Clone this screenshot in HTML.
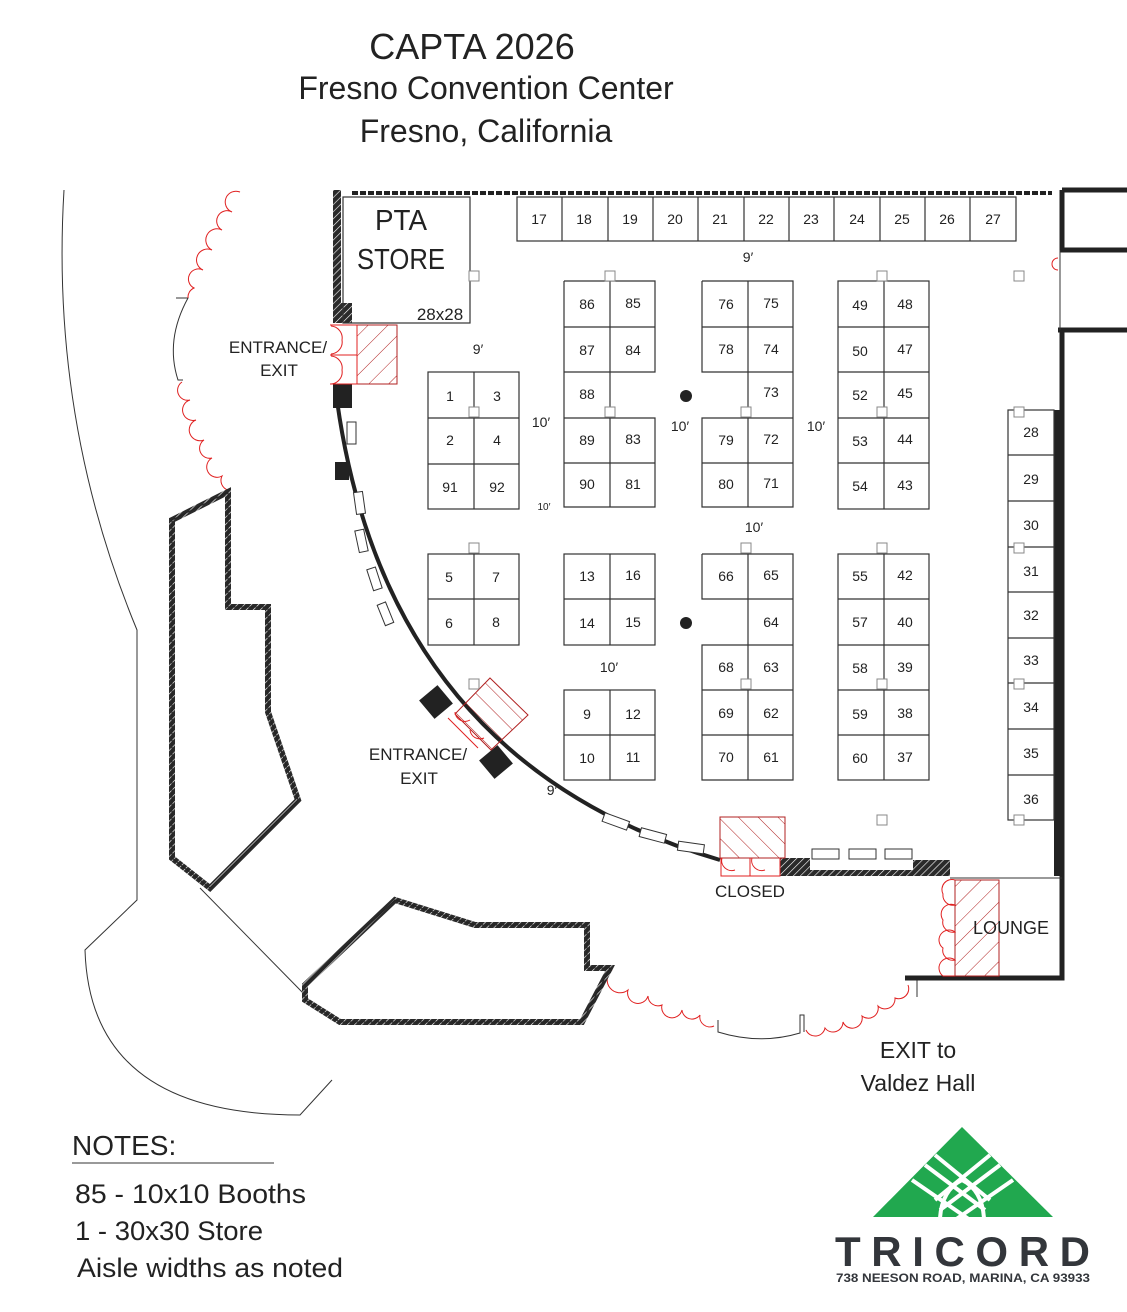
<!DOCTYPE html>
<html><head><meta charset="utf-8"><style>
html,body{margin:0;padding:0;background:#fff}
svg{display:block}
text{font-family:"Liberation Sans",sans-serif;fill:#222}
.b{fill:none;stroke:#333;stroke-width:1.2}
.n{font-size:14px;text-anchor:middle}
.p{fill:#fff;stroke:#888;stroke-width:1}
.r{fill:none;stroke:#e02020;stroke-width:1}
</style></head><body>
<svg width="1127" height="1312" viewBox="0 0 1127 1312" xmlns="http://www.w3.org/2000/svg">
<defs>
<pattern id="h" width="5" height="5" patternUnits="userSpaceOnUse" patternTransform="rotate(45)"><rect width="5" height="5" fill="#2a2a2a"/><line x1="0" y1="0" x2="0" y2="5" stroke="#fff" stroke-width="1.2"/></pattern>
<pattern id="rh" width="14" height="14" patternUnits="userSpaceOnUse" patternTransform="rotate(-45)"><line x1="0" y1="0" x2="0" y2="14" stroke="#b02020" stroke-width="1"/></pattern>
<pattern id="rh2" width="14" height="14" patternUnits="userSpaceOnUse" patternTransform="rotate(45)"><line x1="0" y1="0" x2="0" y2="14" stroke="#b02020" stroke-width="1"/></pattern>
</defs>

<text x="472" y="59" font-size="36" text-anchor="middle">CAPTA 2026</text>
<text x="486" y="99" font-size="32" text-anchor="middle">Fresno Convention Center</text>
<text x="486" y="142" font-size="32" text-anchor="middle">Fresno, California</text>

<path d="M64 190 Q50 420 137 630 L137 900 L85 950 Q90 1115 300 1115 L332 1080" fill="none" stroke="#333" stroke-width="1"/>
<line x1="200" y1="888" x2="305" y2="995" stroke="#333" stroke-width="1"/>
<path d="M176 298 L188 298 Q165 340 178 380 L183 380" fill="none" stroke="#333" stroke-width="1"/>
<path d="M718 1020 L718 1032 Q760 1045 800 1033 L800 1015 L804 1015 L804 1032" fill="none" stroke="#333" stroke-width="1"/>
<line x1="917" y1="978" x2="917" y2="997" stroke="#333"/>

<path class="r" d="M240 192 A10 10 0 0 0 232 212 A10 10 0 0 0 222 230 A10 10 0 0 0 212 250 A10 10 0 0 0 203 270 A10 10 0 0 0 194 288 A10 10 0 0 0 188 298"/>
<path class="r" d="M182 382 A10 10 0 0 0 190 400 A10 10 0 0 0 196 420 A10 10 0 0 0 204 440 A10 10 0 0 0 212 458 A10 10 0 0 0 222 476 A10 10 0 0 0 228 490"/>
<path class="r" d="M612 970 A10 10 0 0 0 628 990 A10 10 0 0 0 648 996 A10 10 0 0 0 662 1005 A10 10 0 0 0 682 1010 A10 10 0 0 0 700 1015 A10 10 0 0 0 714 1026"/>
<path class="r" d="M806 1030 A10 10 0 0 0 825 1028 A10 10 0 0 0 843 1022 A10 10 0 0 0 862 1016 A10 10 0 0 0 878 1006 A10 10 0 0 0 895 998 A10 10 0 0 0 908 985"/>

<path d="M172 520 L228 492 L228 607 L268 607 L268 712 L298 800 L210 888 L172 858 Z" fill="none" stroke="url(#h)" stroke-width="6"/>
<path d="M172 520 L228 492 L228 607 L268 607 L268 712 L298 800 L210 888 L172 858 Z" fill="none" stroke="#222" stroke-width="1"/>
<path d="M305 985 L395 900 L475 925 L587 925 L587 968 L610 968 L582 1022 L340 1022 L305 1000 Z" fill="none" stroke="url(#h)" stroke-width="6"/>
<path d="M305 985 L395 900 L475 925 L587 925 L587 968 L610 968 L582 1022 L340 1022 L305 1000 Z" fill="none" stroke="#222" stroke-width="1"/>

<rect x="333" y="190" width="8" height="133" fill="url(#h)"/>
<rect x="333" y="303" width="19" height="20" fill="url(#h)"/>
<line x1="352" y1="193" x2="1052" y2="193" stroke="#222" stroke-width="4" stroke-dasharray="6,2"/>
<path d="M1062 190 L1127 190 M1062 190 L1062 250 L1127 250 M1058 330 L1127 330 M1062 330 L1062 978 L905 978" fill="none" stroke="#222" stroke-width="5"/>
<line x1="1058" y1="410" x2="1058" y2="876" stroke="#222" stroke-width="8"/>
<line x1="1060" y1="330" x2="1060" y2="250" stroke="#333" stroke-width="1"/>
<path class="r" d="M1058 258 A6 6 0 0 0 1058 270"/>
<path d="M335 385 Q380 760 720 860" fill="none" stroke="#222" stroke-width="4"/>
<rect x="333" y="384" width="19" height="24" fill="#222"/>
<rect x="335" y="462" width="14" height="18" fill="#222"/>
<rect x="424" y="690" width="24" height="24" fill="#222" transform="rotate(-40 436 702)"/>
<rect x="484" y="750" width="24" height="24" fill="#222" transform="rotate(-40 496 762)"/>
<g fill="#fff" stroke="#333" stroke-width="1">
<rect x="347" y="422" width="9" height="22"/>
<rect x="355" y="492" width="9" height="22" transform="rotate(-8 359 503)"/>
<rect x="357" y="530" width="9" height="22" transform="rotate(-12 361 541)"/>
<rect x="370" y="568" width="9" height="22" transform="rotate(-18 374 579)"/>
<rect x="381" y="603" width="9" height="22" transform="rotate(-22 385 614)"/>
<rect x="603" y="817" width="26" height="9" transform="rotate(20 616 821)"/>
<rect x="640" y="831" width="26" height="9" transform="rotate(15 653 835)"/>
<rect x="678" y="843" width="26" height="9" transform="rotate(8 691 847)"/>
<rect x="812" y="849" width="27" height="10"/>
<rect x="849" y="849" width="27" height="10"/>
<rect x="885" y="849" width="27" height="10"/>
</g>
<path d="M780 858 L810 858 L810 870 L913 870 L913 860 L950 860 L950 876 L780 876 Z" fill="url(#h)"/>
<line x1="950" y1="878" x2="1062" y2="878" stroke="#333"/>

<rect x="357" y="325" width="40" height="59" fill="url(#rh2)" stroke="#b02020"/>
<path class="r" d="M330 325 L357 325 L357 384 L330 384 M330 355 L357 355"/>
<path class="r" d="M331 326 A12 12 0 0 1 342 340 A12 12 0 0 1 331 354 M331 356 A12 12 0 0 1 342 370 A12 12 0 0 1 331 384"/>
<text x="278" y="353" font-size="17" text-anchor="middle">ENTRANCE/</text>
<text x="279" y="376" font-size="17" text-anchor="middle">EXIT</text>

<polygon points="490,678 528,715 491,750 455,714" fill="url(#rh)" stroke="#b02020"/>
<path class="r" d="M448 718 L478 748 M455 712 A10 10 0 0 0 470 720 M470 730 A10 10 0 0 0 484 738"/>
<text x="418" y="760" font-size="17" text-anchor="middle">ENTRANCE/</text>
<text x="419" y="784" font-size="17" text-anchor="middle">EXIT</text>

<rect x="720" y="817" width="65" height="41" fill="url(#rh)" stroke="#b02020"/>
<path class="r" d="M721 858 L721 876 L780 876 L780 858 M750 858 L750 876 M722 858 A10 10 0 0 0 735 870 M752 858 A10 10 0 0 0 765 870"/>
<text x="750" y="897" font-size="17" text-anchor="middle">CLOSED</text>

<rect x="955" y="880" width="44" height="96" fill="url(#rh2)" stroke="#b02020"/>
<path class="r" d="M955 880 A10 10 0 0 0 943 894 A10 10 0 0 0 955 905 A10 10 0 0 0 943 920 A10 10 0 0 0 955 932 A10 10 0 0 0 943 948 A10 10 0 0 0 955 960 A10 10 0 0 0 943 976 L955 976"/>
<text x="1011" y="934" font-size="18" text-anchor="middle">LOUNGE</text>
<text x="918" y="1058" font-size="23" text-anchor="middle">EXIT to</text>
<text x="918" y="1091" font-size="23" text-anchor="middle">Valdez Hall</text>

<rect x="343" y="197" width="127" height="126" class="b"/>
<text x="401" y="230" font-size="29" text-anchor="middle" textLength="52" lengthAdjust="spacingAndGlyphs">PTA</text>
<text x="401" y="269" font-size="29" text-anchor="middle" textLength="88" lengthAdjust="spacingAndGlyphs">STORE</text>
<text x="440" y="320" font-size="17" text-anchor="middle">28x28</text>

<rect x="517" y="197" width="499" height="44" class="b"/>
<path class="b" d="M562 197V241M608 197V241M653 197V241M698 197V241M744 197V241M789 197V241M834 197V241M880 197V241M925 197V241M970 197V241"/>
<g class="n"><text x="539" y="224">17</text><text x="584" y="224">18</text><text x="630" y="224">19</text><text x="675" y="224">20</text><text x="720" y="224">21</text><text x="766" y="224">22</text><text x="811" y="224">23</text><text x="857" y="224">24</text><text x="902" y="224">25</text><text x="947" y="224">26</text><text x="993" y="224">27</text></g>

<rect x="428" y="372" width="91" height="137" class="b"/>
<path class="b" d="M474 372V509M428 418H519M428 464H519"/>
<g class="n"><text x="450" y="401">1</text><text x="497" y="401">3</text><text x="450" y="445">2</text><text x="497" y="445">4</text><text x="450" y="492">91</text><text x="497" y="492">92</text></g>

<path class="b" d="M564 281H655V372H610M564 281V507H655V418H610M610 281V507M564 327H655M564 372H610M564 418H655M564 463H655"/>
<g class="n"><text x="587" y="309">86</text><text x="633" y="308">85</text><text x="587" y="355">87</text><text x="633" y="355">84</text><text x="587" y="399">88</text><text x="587" y="445">89</text><text x="633" y="444">83</text><text x="587" y="489">90</text><text x="633" y="489">81</text></g>

<path class="b" d="M702 281H793V507H702V418H748M702 281V372H748M748 281V507M702 327H793M748 372H793M702 418H793M702 463H793"/>
<g class="n"><text x="726" y="309">76</text><text x="771" y="308">75</text><text x="726" y="354">78</text><text x="771" y="354">74</text><text x="771" y="397">73</text><text x="726" y="445">79</text><text x="771" y="444">72</text><text x="726" y="489">80</text><text x="771" y="488">71</text></g>

<rect x="838" y="281" width="91" height="228" class="b"/>
<path class="b" d="M884 281V509M838 327H929M838 372H929M838 418H929M838 463H929"/>
<g class="n"><text x="860" y="310">49</text><text x="905" y="309">48</text><text x="860" y="356">50</text><text x="905" y="354">47</text><text x="860" y="400">52</text><text x="905" y="398">45</text><text x="860" y="446">53</text><text x="905" y="444">44</text><text x="860" y="491">54</text><text x="905" y="490">43</text></g>

<rect x="428" y="554" width="91" height="91" class="b"/>
<path class="b" d="M474 554V645M428 599H519"/>
<g class="n"><text x="449" y="582">5</text><text x="496" y="582">7</text><text x="449" y="628">6</text><text x="496" y="627">8</text></g>

<rect x="564" y="554" width="91" height="91" class="b"/>
<path class="b" d="M610 554V645M564 599H655"/>
<g class="n"><text x="587" y="581">13</text><text x="633" y="580">16</text><text x="587" y="628">14</text><text x="633" y="627">15</text></g>

<rect x="564" y="690" width="91" height="90" class="b"/>
<path class="b" d="M610 690V780M564 735H655"/>
<g class="n"><text x="587" y="719">9</text><text x="633" y="719">12</text><text x="587" y="763">10</text><text x="633" y="762">11</text></g>

<path class="b" d="M702 554H793V780H702V645H748M702 554V599H748M748 554V780M748 599H793M702 645H793M702 690H793M702 735H793"/>
<g class="n"><text x="726" y="581">66</text><text x="771" y="580">65</text><text x="771" y="627">64</text><text x="726" y="672">68</text><text x="771" y="672">63</text><text x="726" y="718">69</text><text x="771" y="718">62</text><text x="726" y="762">70</text><text x="771" y="762">61</text></g>

<rect x="838" y="554" width="91" height="226" class="b"/>
<path class="b" d="M884 554V780M838 599H929M838 645H929M838 690H929M838 735H929"/>
<g class="n"><text x="860" y="581">55</text><text x="905" y="580">42</text><text x="860" y="627">57</text><text x="905" y="627">40</text><text x="860" y="673">58</text><text x="905" y="672">39</text><text x="860" y="719">59</text><text x="905" y="718">38</text><text x="860" y="763">60</text><text x="905" y="762">37</text></g>

<rect x="1008" y="410" width="46" height="410" class="b"/>
<path class="b" d="M1008 455H1054M1008 501H1054M1008 547H1054M1008 592H1054M1008 638H1054M1008 683H1054M1008 729H1054M1008 775H1054"/>
<g class="n"><text x="1031" y="437">28</text><text x="1031" y="484">29</text><text x="1031" y="530">30</text><text x="1031" y="576">31</text><text x="1031" y="620">32</text><text x="1031" y="665">33</text><text x="1031" y="712">34</text><text x="1031" y="758">35</text><text x="1031" y="804">36</text></g>

<g class="p">
<rect x="469" y="271" width="10" height="10"/><rect x="605" y="271" width="10" height="10"/><rect x="877" y="271" width="10" height="10"/><rect x="1014" y="271" width="10" height="10"/>
<rect x="469" y="407" width="10" height="10"/><rect x="605" y="407" width="10" height="10"/><rect x="741" y="407" width="10" height="10"/><rect x="877" y="407" width="10" height="10"/><rect x="1014" y="407" width="10" height="10"/>
<rect x="469" y="543" width="10" height="10"/><rect x="741" y="543" width="10" height="10"/><rect x="877" y="543" width="10" height="10"/><rect x="1014" y="543" width="10" height="10"/>
<rect x="469" y="679" width="10" height="10"/><rect x="741" y="679" width="10" height="10"/><rect x="877" y="679" width="10" height="10"/><rect x="1014" y="679" width="10" height="10"/>
<rect x="877" y="815" width="10" height="10"/><rect x="1014" y="815" width="10" height="10"/>
</g>
<circle cx="686" cy="396" r="6" fill="#222"/>
<circle cx="686" cy="623" r="6" fill="#222"/>

<g font-size="14" text-anchor="middle">
<text x="478" y="354">9′</text><text x="748" y="262">9′</text>
<text x="541" y="427">10′</text><text x="680" y="431">10′</text><text x="816" y="431">10′</text>
<text x="754" y="532">10′</text><text x="609" y="672">10′</text><text x="552" y="795">9′</text>
<text x="544" y="510" font-size="10">10′</text>
</g>

<text x="72" y="1155" font-size="28">NOTES:</text>
<line x1="72" y1="1163" x2="274" y2="1163" stroke="#333" stroke-width="1"/>
<text x="75" y="1203" font-size="27" textLength="231" lengthAdjust="spacingAndGlyphs">85  - 10x10 Booths</text>
<text x="75" y="1240" font-size="27" textLength="188" lengthAdjust="spacingAndGlyphs">1 - 30x30 Store</text>
<text x="77" y="1277" font-size="27" textLength="266" lengthAdjust="spacingAndGlyphs">Aisle widths as noted</text>

<polygon points="962,1127 1053,1217 873,1217" fill="#21a84f"/>
<g fill="none" stroke="#fff" stroke-width="4">
<path d="M935 1155 L990 1200 M925 1165 L985 1210 M912 1180 L970 1220"/>
<path d="M990 1155 L935 1200 M1000 1165 L940 1210 M1013 1180 L955 1220"/>
<path d="M940 1218 Q942 1190 962 1180 Q982 1190 984 1218"/>
</g>
<text x="835" y="1266" font-size="42" font-weight="bold" textLength="255" lengthAdjust="spacing" style="fill:#33363b">TRICORD</text>
<text x="836" y="1282" font-size="12" font-weight="bold" textLength="254" lengthAdjust="spacingAndGlyphs" style="fill:#33363b">738 NEESON ROAD, MARINA, CA 93933</text>
</svg>
</body></html>
